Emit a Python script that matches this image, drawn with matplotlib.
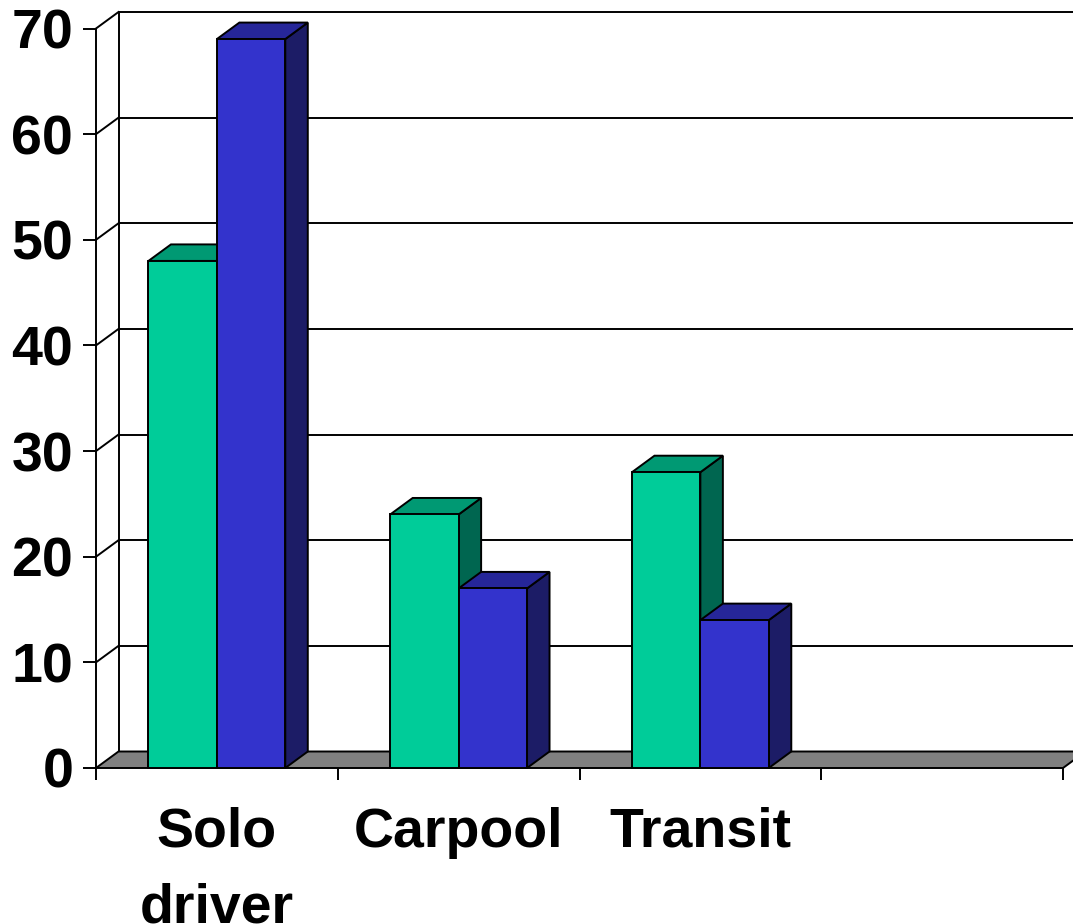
import matplotlib
matplotlib.use("Agg")
import matplotlib.pyplot as plt
from matplotlib.patches import Polygon

# Chart data (3D clustered columns, 4th category left empty)
categories = ["Solo\ndriver", "Carpool", "Transit", ""]
series_green = [48, 24, 28]
series_blue = [69, 17, 14]
y_ticks = [0, 10, 20, 30, 40, 50, 60, 70]

# front, top, side shades
GREEN = ("#00CC99", "#009973", "#006650")
BLUE = ("#3333CC", "#262699", "#1C1C66")
FLOOR = "#808080"

plt.rcParams["font.family"] = ["Liberation Sans", "DejaVu Sans"]

W, H = 1073, 924
fig = plt.figure(figsize=(W / 100, H / 100), dpi=100)
ax = fig.add_axes([96 / W, (H - 768) / H, (1063 - 96) / W, (768 - 28.5) / H])
ax.set_xlim(0, len(categories))
ax.set_ylim(y_ticks[0], y_ticks[-1])

# depth offset of the box (about 22.5 px right, 16.5 px up) in data units
DX = 22.5 * len(categories) / (1063 - 96)
DY = 16.5 * y_ticks[-1] / (768 - 28.5)
LW = 1.4
BW = 0.283  # bar width in category units

# back wall gridlines and left wall
for v in y_ticks[1:]:
    ax.plot([DX, len(categories) + DX], [v + DY, v + DY], color="black", lw=LW,
            zorder=1, clip_on=False)
    ax.plot([0, DX], [v, v + DY], color="black", lw=LW, zorder=1, clip_on=False)
ax.plot([DX, DX], [DY, y_ticks[-1] + DY], color="black", lw=LW, zorder=1, clip_on=False)

# floor
n = len(categories)
ax.add_patch(Polygon([(0, 0), (n, 0), (n + DX, DY), (DX, DY)], closed=True,
                     facecolor=FLOOR, edgecolor="black", lw=LW, zorder=2, clip_on=False))


def bar3d(x0, h, colors, z):
    front, top, side = colors
    x1 = x0 + BW
    faces = [
        ([(x1, 0), (x1 + DX, DY), (x1 + DX, h + DY), (x1, h)], side),
        ([(x0, h), (x1, h), (x1 + DX, h + DY), (x0 + DX, h + DY)], top),
        ([(x0, 0), (x1, 0), (x1, h), (x0, h)], front),
    ]
    for pts, c in faces:
        ax.add_patch(Polygon(pts, closed=True, facecolor=c, edgecolor="black",
                             lw=LW, joinstyle="miter", zorder=z, clip_on=False))


z = 3
for i, (g, b) in enumerate(zip(series_green, series_blue)):
    center = i + 0.5
    bar3d(center - BW, g, GREEN, z)
    bar3d(center, b, BLUE, z + 1)
    z += 2

# axes styling
for s in ["top", "right", "bottom"]:
    ax.spines[s].set_visible(False)
ax.spines["left"].set_linewidth(LW)
ax.spines["left"].set_zorder(10)

ax.set_yticks(y_ticks)
ax.set_yticklabels([str(v) for v in y_ticks], fontsize=40, fontweight="bold")
ax.tick_params(axis="y", direction="out", length=9.4, width=LW, pad=7)

ax.set_xticks(range(n + 1))
ax.set_xticklabels([])
ax.tick_params(axis="x", which="major", direction="out", length=8.6, width=LW)
ax.set_xticks([i + 0.5 for i in range(n)], categories, minor=True)
ax.tick_params(axis="x", which="minor", length=0, pad=28)
for lbl in ax.get_xticklabels(minor=True):
    lbl.set_fontsize(40)
    lbl.set_fontweight("bold")
    lbl.set_linespacing(1.6)

fig.savefig("out.png", dpi=100)
